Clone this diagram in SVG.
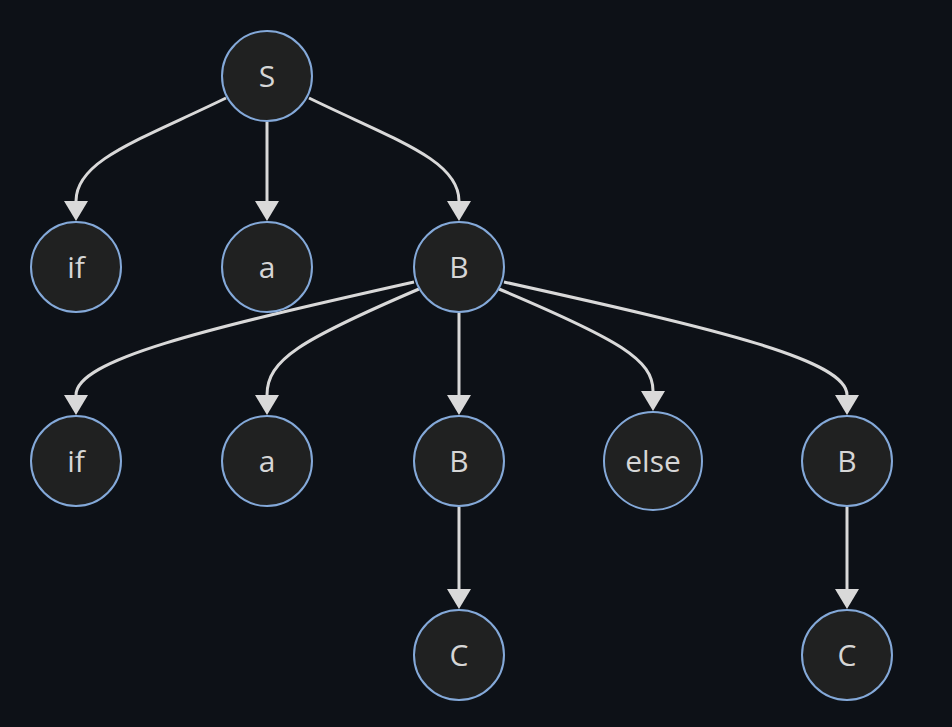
<svg xmlns="http://www.w3.org/2000/svg" width="952" height="727" viewBox="0 0 952 727">
<defs>
<marker id="arr" markerUnits="userSpaceOnUse" markerWidth="22" markerHeight="26" refX="0" refY="12" orient="auto" viewBox="0 0 22 26">
<path d="M0,0 L20,12 L0,24 z" fill="#d9d9d9"/>
</marker>
</defs>
<style>
.n circle{fill:#202121;stroke:#84a9d9;stroke-width:2}
.n text{font-family:"Open Sans","DejaVu Sans",sans-serif;font-size:30px;fill:#d6d6d6;text-anchor:middle;dominant-baseline:central}
.e path{fill:none;stroke:#d9d9d9;stroke-width:3;marker-end:url(#arr)}
</style>
<rect width="952" height="727" fill="#0d1117"/>
<g class="e" id="edges">
<path d="M226,98 C140,140 76,160 76,201"/>
<path d="M267,122 L267,201"/>
<path d="M309,98 C395,140 459,160 459,201"/>
<path d="M414,282 C200,330 76,360 76,395"/>
<path d="M419,289 C300,340 267,360 267,395"/>
<path d="M459,313 L459,395"/>
<path d="M499,289 C620,340 653,360 653,391"/>
<path d="M504,282 C720,330 847,360 847,395"/>
<path d="M459,507 L459,589"/>
<path d="M847,507 L847,589"/>
</g>
<g class="n" id="S"><circle cx="267" cy="76" r="45"/><text x="267" y="75">S</text></g>
<g class="n" id="if1"><circle cx="76" cy="267" r="45"/><text x="76" y="266">if</text></g>
<g class="n" id="a1"><circle cx="267" cy="267" r="45"/><text x="267" y="266">a</text></g>
<g class="n" id="B1"><circle cx="459" cy="267" r="45"/><text x="459" y="266">B</text></g>
<g class="n" id="if2"><circle cx="76" cy="461" r="45"/><text x="76" y="460">if</text></g>
<g class="n" id="a2"><circle cx="267" cy="461" r="45"/><text x="267" y="460">a</text></g>
<g class="n" id="B2"><circle cx="459" cy="461" r="45"/><text x="459" y="460">B</text></g>
<g class="n" id="else"><circle cx="653" cy="461" r="49"/><text x="653" y="460">else</text></g>
<g class="n" id="B3"><circle cx="847" cy="461" r="45"/><text x="847" y="460">B</text></g>
<g class="n" id="C1"><circle cx="459" cy="655" r="45"/><text x="459" y="654">C</text></g>
<g class="n" id="C2"><circle cx="847" cy="655" r="45"/><text x="847" y="654">C</text></g>
</svg>
